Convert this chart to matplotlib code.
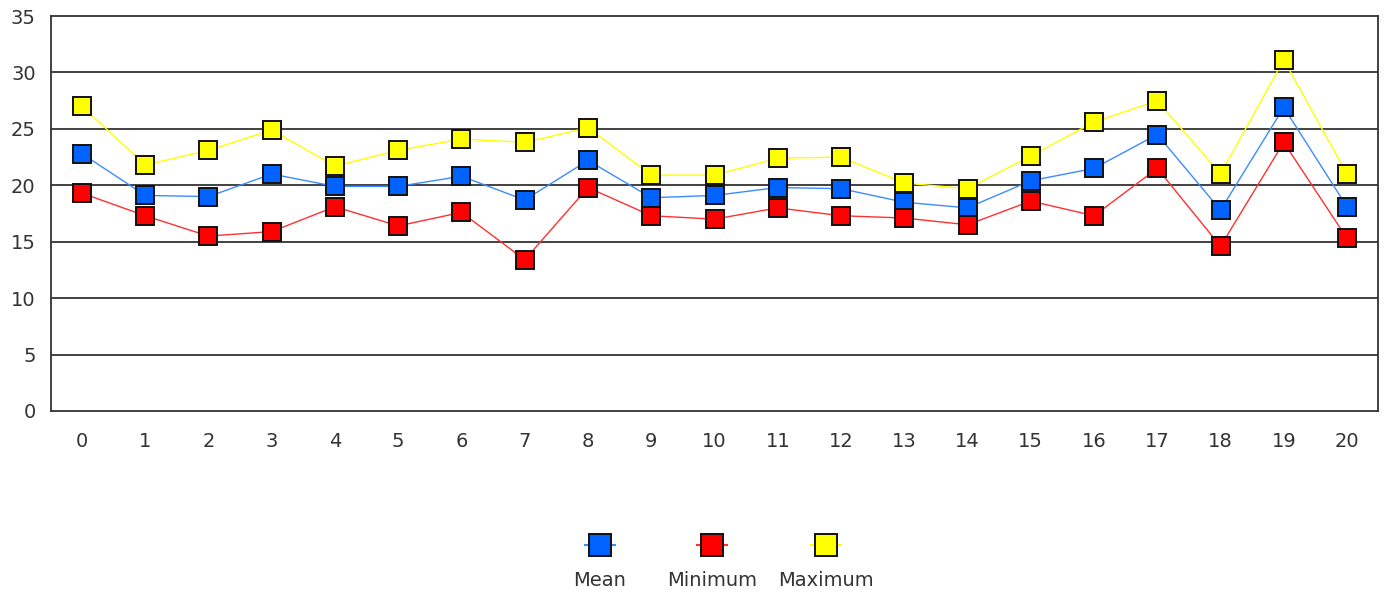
import numpy as np
import matplotlib
matplotlib.use('Agg')
import matplotlib.pyplot as plt
from matplotlib.lines import Line2D

# Valores
dias = list(range(21))
media = [22.8, 19.1, 19.0, 21.0, 19.9, 19.9, 20.8, 18.7, 22.2, 18.9, 19.1,
         19.8, 19.7, 18.5, 18.0, 20.4, 21.5, 24.5, 17.8, 26.9, 18.1]
minimo = [19.3, 17.3, 15.5, 15.9, 18.1, 16.4, 17.6, 13.4, 19.8, 17.3, 17.0,
          18.0, 17.3, 17.1, 16.5, 18.6, 17.3, 21.5, 14.6, 23.8, 15.3]
maximo = [27.0, 21.8, 23.1, 24.9, 21.7, 23.1, 24.1, 23.8, 25.1, 20.9, 20.9,
          22.4, 22.5, 20.2, 19.7, 22.6, 25.6, 27.5, 21.0, 31.1, 21.0]
nomes = ['Mean', 'Minimum', 'Maximum']
y_ticks = [0, 5, 10, 15, 20, 25, 30, 35]

cor_marcador = {'Mean': '#0063ff', 'Minimum': '#ff0000', 'Maximum': '#ffff00'}
cor_linha = {'Mean': '#3b8bff', 'Minimum': '#ff3030', 'Maximum': '#ffff00'}

plt.rcParams['font.family'] = ['DejaVu Sans']

fig = plt.figure(figsize=(13.84, 5.94), dpi=100)
ax = fig.add_axes([51 / 1384, 1 - 411 / 594, (1378 - 51) / 1384, (411 - 16) / 594])

series = {'Mean': media, 'Minimum': minimo, 'Maximum': maximo}
ordem_z = {'Maximum': 3, 'Mean': 4, 'Minimum': 5}
for nome in nomes:
    ax.plot(dias, series[nome], color=cor_linha[nome], lw=1.0,
            marker='s', markersize=13, markerfacecolor=cor_marcador[nome],
            markeredgecolor='#111111', markeredgewidth=1.4, zorder=ordem_z[nome])

ax.set_xlim(-0.49, 20.49)
ax.set_ylim(0, 35)
ax.set_yticks(y_ticks)
ax.set_xticks(dias)
for y in y_ticks[1:-1]:
    ax.axhline(y, color='#333333', lw=1.3, zorder=1)
for s in ax.spines.values():
    s.set_color('#333333')
    s.set_linewidth(1.3)
ax.tick_params(axis='both', length=0, labelsize=14, colors='#333333')
ax.tick_params(axis='x', pad=15)
ax.tick_params(axis='y', pad=11)

# Legenda: marcador em cima, texto embaixo
centros = [600 / 1384, 712 / 1384, 826 / 1384]
for nome, cx in zip(nomes, centros):
    h = Line2D([], [], color=cor_linha[nome], lw=1.5, marker='s', markersize=16,
               markerfacecolor=cor_marcador[nome], markeredgecolor='#111111',
               markeredgewidth=1.4)
    fig.legend([h], [''], loc='center', bbox_to_anchor=(cx, 1 - 546 / 594),
               frameon=False, handlelength=2.2, handletextpad=0, borderpad=0)
    fig.text(cx, 1 - 580 / 594, nome, ha='center', va='center', fontsize=14,
             color='#333333')

plt.savefig('out.png', dpi=100)
